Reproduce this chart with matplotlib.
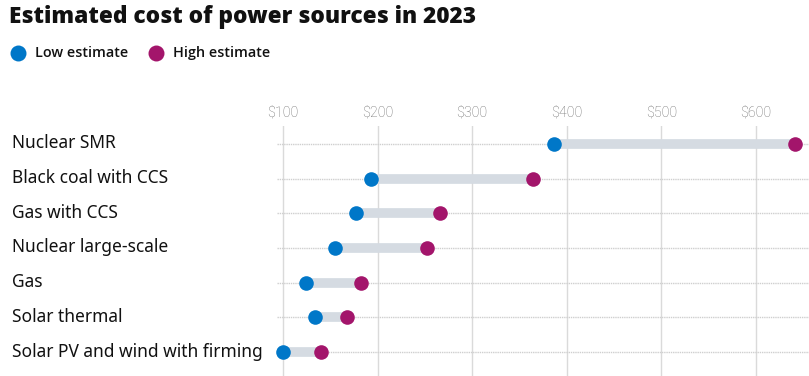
import matplotlib
matplotlib.use("Agg")
import matplotlib.pyplot as plt
from matplotlib.lines import Line2D

categories = ["Nuclear SMR", "Black coal with CCS", "Gas with CCS", "Nuclear large-scale",
              "Gas", "Solar thermal", "Solar PV and wind with firming"]
low = [387, 193, 177, 155, 124, 134, 100]
high = [641, 364, 266, 252, 183, 168, 140]
ticks = [100, 200, 300, 400, 500, 600]
tick_labels = ["$100", "$200", "$300", "$400", "$500", "$600"]

BLUE = "#0077c8"
MAG = "#a3156b"
W, H = 809, 376
fig = plt.figure(figsize=(W / 100, H / 100), dpi=100)

ax = fig.add_axes([277 / W, 0, 532 / W, (376 - 126) / 376])
ax.set_xlim(93.7, 656)
ax.set_ylim(6.69, -0.517)
for s in ax.spines.values():
    s.set_visible(False)
ax.set_yticks([])
ax.xaxis.tick_top()
ax.set_xticks(ticks)
ax.set_xticklabels(tick_labels, fontsize=10.3, color="#6e6e6e", fontfamily="Roboto",
                   fontweight="light")
ax.tick_params(axis="x", length=0, pad=5)
for t in ticks:
    ax.axvline(t, color="#dadada", lw=1, zorder=0)

for i, (c, lo, hi) in enumerate(zip(categories, low, high)):
    ax.axhline(i, color="#cfcfcf", lw=1, ls=(0, (1, 0.6)), zorder=0.5)
    ax.plot([lo, hi], [i, i], color="#d5dbe2", lw=7, solid_capstyle="butt", zorder=2)
    ax.plot([lo], [i], "o", color=BLUE, ms=10.5, mec="none", zorder=3, clip_on=False)
    ax.plot([hi], [i], "o", color=MAG, ms=10.5, mec="none", zorder=3, clip_on=False)
    y_px = 143 + 34.83 * i
    fig.text(12 / W, 1 - y_px / H, c, fontsize=12.5, color="#111111", va="center",
             ha="left", fontfamily="Noto Sans")

fig.text(9 / W, 1 - 17 / H, "Estimated cost of power sources in 2023", fontsize=16.3,
         fontweight="heavy", color="#111111", va="center", ha="left", fontfamily="Open Sans")

# legend
for cx, tx, col, lab in [(18, 35, BLUE, "Low estimate"), (156, 173, MAG, "High estimate")]:
    fig.add_artist(Line2D([cx / W], [1 - 53 / H], marker="o", ms=11.5, color=col, mec="none",
                          transform=fig.transFigure))
    fig.text(tx / W, 1 - 53 / H, lab, fontsize=10.4, fontweight="semibold", color="#111111",
             va="center", ha="left", fontfamily="Open Sans")

fig.savefig("out.png", dpi=100)
